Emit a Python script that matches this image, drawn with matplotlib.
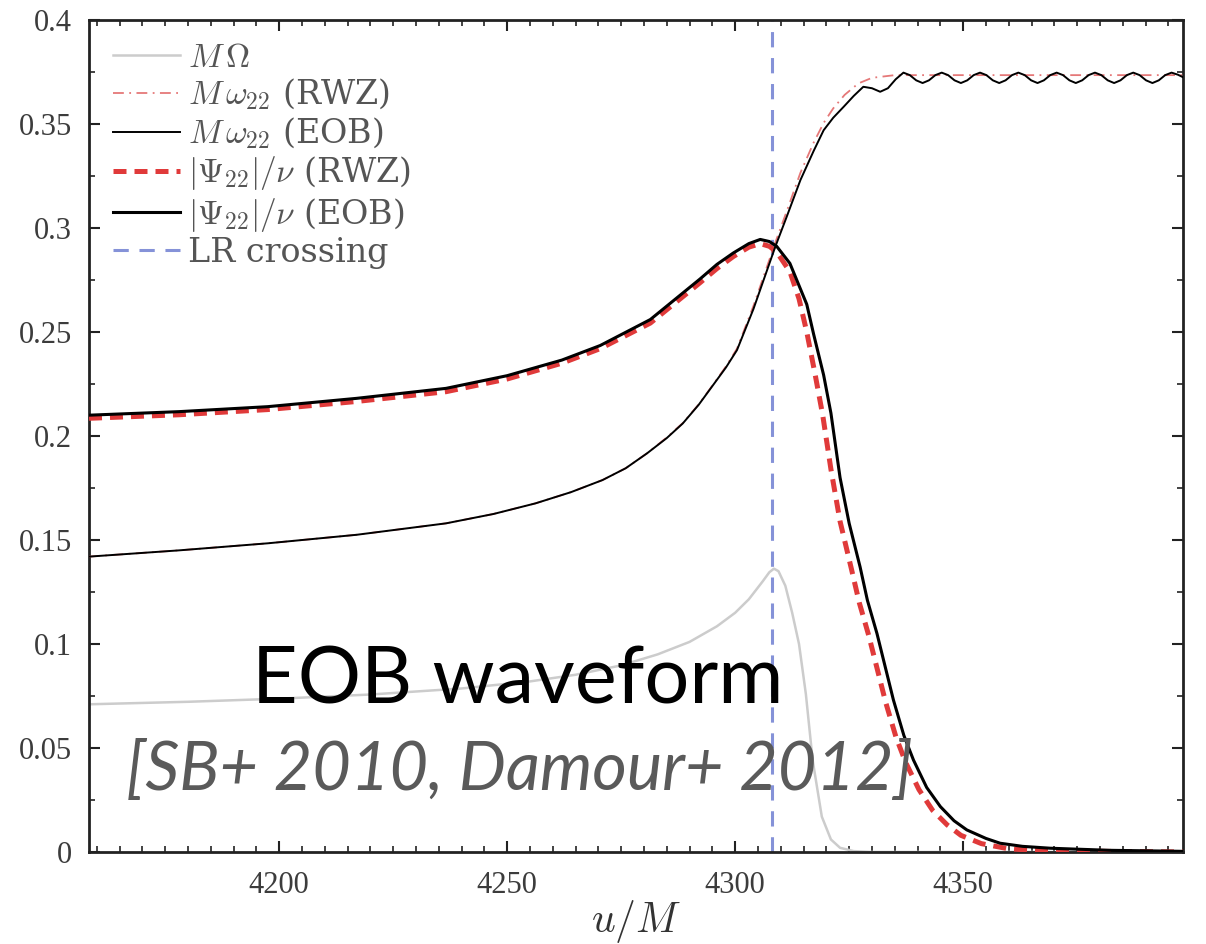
import matplotlib
matplotlib.use("Agg")
import matplotlib.pyplot as plt
from matplotlib.ticker import FixedLocator, MultipleLocator, FixedFormatter

plt.rcParams['font.family'] = ['Liberation Serif', 'DejaVu Serif']
plt.rcParams['mathtext.fontset'] = 'cm'

# ---- data ----
u_omega_orb = [4158.3, 4180, 4200, 4220, 4240, 4255, 4265, 4275, 4283, 4290, 4296, 4300,
               4303, 4306, 4307.5, 4308.5, 4309.5, 4311, 4312.5, 4314, 4315.5, 4317,
               4319, 4321, 4323, 4326, 4330, 4398.2]
omega_orb = [0.0710, 0.0722, 0.0737, 0.0757, 0.0786, 0.0820, 0.0852, 0.0897, 0.0950, 0.1010,
             0.1085, 0.1150, 0.1215, 0.1300, 0.1345, 0.1362, 0.1350, 0.1280, 0.1150, 0.1000,
             0.0760, 0.0440, 0.0170, 0.0060, 0.0020, 0.0004, 0.0, 0.0]

u_w22_rwz = [4158.3, 4178, 4197.5, 4217, 4236.6, 4247, 4256.2, 4264, 4270.9, 4276, 4280.7,
             4285, 4288.5, 4292, 4295, 4298, 4300.4, 4304, 4308.8, 4311.3, 4314.3, 4317.2,
             4319.4, 4321.5, 4324, 4327, 4330, 4335, 4398.2]
w22_rwz = [0.1420, 0.1450, 0.1484, 0.1525, 0.1580, 0.1625, 0.1676, 0.1730, 0.1788, 0.1845,
           0.1917, 0.1993, 0.2062, 0.2152, 0.2242, 0.2335, 0.2420, 0.2625, 0.2930, 0.3080,
           0.3265, 0.3410, 0.3505, 0.3575, 0.3640, 0.3695, 0.3722, 0.3735, 0.3735]

u_w22_eob = [4158.3, 4178, 4197.5, 4217, 4236.6, 4247, 4256.2, 4264, 4270.9, 4276, 4280.7,
             4285, 4288.5, 4292, 4295, 4298, 4300.4, 4304, 4308.8, 4311.3, 4314.3, 4317.2,
             4319.4, 4321.5, 4323.8, 4326, 4328.1, 4330, 4331.8, 4333.5, 4335.2,
             4336.9, 4338.3, 4339.7, 4341.1, 4342.5, 4343.9,
             4345.3, 4346.7, 4348.1, 4349.5, 4350.9, 4352.3,
             4353.7, 4355.1, 4356.5, 4357.9, 4359.3, 4360.7,
             4362.1, 4363.5, 4364.9, 4366.3, 4367.7, 4369.1,
             4370.5, 4371.9, 4373.3, 4374.7, 4376.1, 4377.5,
             4378.9, 4380.3, 4381.7, 4383.1, 4384.5, 4385.9,
             4387.3, 4388.7, 4390.1, 4391.5, 4392.9, 4394.3,
             4395.7, 4397.1, 4398.2]
w22_eob = [0.1420, 0.1450, 0.1484, 0.1525, 0.1580, 0.1625, 0.1676, 0.1730, 0.1788, 0.1845,
           0.1917, 0.1990, 0.2060, 0.2150, 0.2240, 0.2330, 0.2413, 0.2610, 0.2910, 0.3054,
           0.3230, 0.3370, 0.3470, 0.3530, 0.3583, 0.3635, 0.3679, 0.3672, 0.3655, 0.3672,
           0.3715,
           0.3747, 0.3735, 0.3710, 0.3697, 0.3710, 0.3735,
           0.3747, 0.3735, 0.3710, 0.3697, 0.3710, 0.3735,
           0.3747, 0.3735, 0.3710, 0.3697, 0.3710, 0.3735,
           0.3747, 0.3735, 0.3710, 0.3697, 0.3710, 0.3735,
           0.3747, 0.3735, 0.3710, 0.3697, 0.3710, 0.3735,
           0.3747, 0.3735, 0.3710, 0.3697, 0.3710, 0.3735,
           0.3747, 0.3735, 0.3710, 0.3697, 0.3710, 0.3735,
           0.3747, 0.3737, 0.3725]

u_psi_rwz = [4158.3, 4178, 4197.5, 4217, 4236.6, 4250, 4262, 4270.4, 4281.4, 4292.3, 4296,
             4299.6, 4303, 4305.5, 4307.5, 4309.1, 4312, 4314, 4315.7, 4317.5, 4319.2, 4321,
             4323, 4325.5, 4327.2, 4329.3, 4333, 4335.3, 4337.4, 4340.3, 4343.3, 4346.5,
             4349.5, 4354, 4360, 4368, 4398.2]
psi_rwz = [0.2085, 0.2102, 0.2127, 0.2166, 0.2213, 0.2274, 0.2350, 0.2420, 0.2543, 0.2737,
           0.2805, 0.2863, 0.2908, 0.2925, 0.2912, 0.2885, 0.2790, 0.2660, 0.2500, 0.2300,
           0.2100, 0.1840, 0.1590, 0.1360, 0.1200, 0.1040, 0.0720, 0.0550, 0.0430, 0.0300,
           0.0200, 0.0130, 0.0080, 0.0040, 0.0015, 0.0005, 0.0]

u_psi_eob = [4158.3, 4178, 4197.5, 4217, 4236.6, 4250, 4262, 4270.4, 4281.4, 4292.3, 4296,
             4299.6, 4303, 4305.5, 4307.5, 4309.1, 4312, 4315.7, 4317.2, 4319.4, 4321, 4323,
             4325, 4327.4, 4329, 4331.1, 4334.7, 4337, 4339.1, 4342, 4345, 4348, 4350.8,
             4355, 4358.1, 4363, 4369.1, 4382, 4398.2]
psi_eob = [0.2100, 0.2117, 0.2141, 0.2181, 0.2229, 0.2290, 0.2365, 0.2435, 0.2560, 0.2755,
           0.2825, 0.2880, 0.2925, 0.2945, 0.2935, 0.2912, 0.2830, 0.2633, 0.2490, 0.2293,
           0.2110, 0.1800, 0.1580, 0.1370, 0.1210, 0.1050, 0.0731, 0.0560, 0.0442, 0.0310,
           0.0218, 0.0150, 0.0106, 0.0065, 0.0042, 0.0027, 0.0018, 0.0008, 0.0003]

u_lr = 4308.1

xticks = [4200, 4250, 4300, 4350]
xticklabels = ['4200', '4250', '4300', '4350']
yticks = [0, 0.05, 0.1, 0.15, 0.2, 0.25, 0.3, 0.35, 0.4]
yticklabels = ['0', '0.05', '0.1', '0.15', '0.2', '0.25', '0.3', '0.35', '0.4']

labels = [r'$M\,\Omega$', r'$M\,\omega_{22}$ (RWZ)', r'$M\,\omega_{22}$ (EOB)',
          r'$|\Psi_{22}|/\nu$ (RWZ)', r'$|\Psi_{22}|/\nu$ (EOB)', 'LR crossing']

# ---- figure ----
fig = plt.figure(figsize=(12.06, 9.44), dpi=100)
ax = fig.add_axes([0.0738, 0.0975, 0.9071, 0.8813])

ax.plot(u_omega_orb, omega_orb, color='#cccccc', lw=1.8, label=labels[0], zorder=2)
ax.plot(u_w22_rwz, w22_rwz, color='#e57878', lw=1.3, ls=(0, (6, 3, 1, 3)), label=labels[1], zorder=3)
ax.plot(u_w22_eob, w22_eob, color='black', lw=1.4, label=labels[2], zorder=4)
ax.plot(u_psi_rwz, psi_rwz, color='#e03a3a', lw=3.6, ls=(0, (2.6, 1.6)), label=labels[3], zorder=3)
ax.plot(u_psi_eob, psi_eob, color='black', lw=2.2, label=labels[4], zorder=5)
ax.axvline(u_lr, color='#8592d8', lw=2.2, ls=(0, (5, 3.5)), label=labels[5], zorder=2.5)

ax.set_xlim(4158.3, 4398.2)
ax.set_ylim(0, 0.4)

ax.xaxis.set_major_locator(FixedLocator(xticks))
ax.xaxis.set_major_formatter(FixedFormatter(xticklabels))
ax.xaxis.set_minor_locator(MultipleLocator(5))
ax.yaxis.set_major_locator(FixedLocator(yticks))
ax.yaxis.set_major_formatter(FixedFormatter(yticklabels))
ax.yaxis.set_minor_locator(MultipleLocator(0.025))

ax.tick_params(which='both', direction='in', top=True, right=True, colors='#222222',
               labelcolor='#3c3c3c', labelsize=22)
ax.tick_params(which='major', length=8, width=1.5)
ax.tick_params(which='minor', length=4, width=1.2)
ax.tick_params(axis='x', pad=14)
ax.tick_params(axis='y', pad=12)
for s in ax.spines.values():
    s.set_linewidth(2.0)
    s.set_color('#222222')

ax.set_xlabel(r'$u/M$', fontsize=30, color='#333333', labelpad=-2)

leg = ax.legend(loc='upper left', frameon=False,
                prop={'family': ['DejaVu Serif'], 'size': 24},
                handlelength=2.0, handletextpad=0.25, labelspacing=0.1,
                borderaxespad=0.0, borderpad=0.0,
                bbox_to_anchor=(0.022, 0.974))
for t in leg.get_texts():
    t.set_color('#555555')

fig.text(252 / 1206, 1 - 703 / 944, 'EOB waveform', fontsize=57, family=['Lato', 'DejaVu Sans'],
         color='black', ha='left', va='baseline', zorder=10)
fig.text(126 / 1206, 1 - 790 / 944, '[SB+ 2010, Damour+ 2012]', fontsize=48,
         family=['Lato', 'DejaVu Sans'], style='italic', color='#5a5a5a',
         ha='left', va='baseline', zorder=10)

fig.savefig('out.png', dpi=100)
